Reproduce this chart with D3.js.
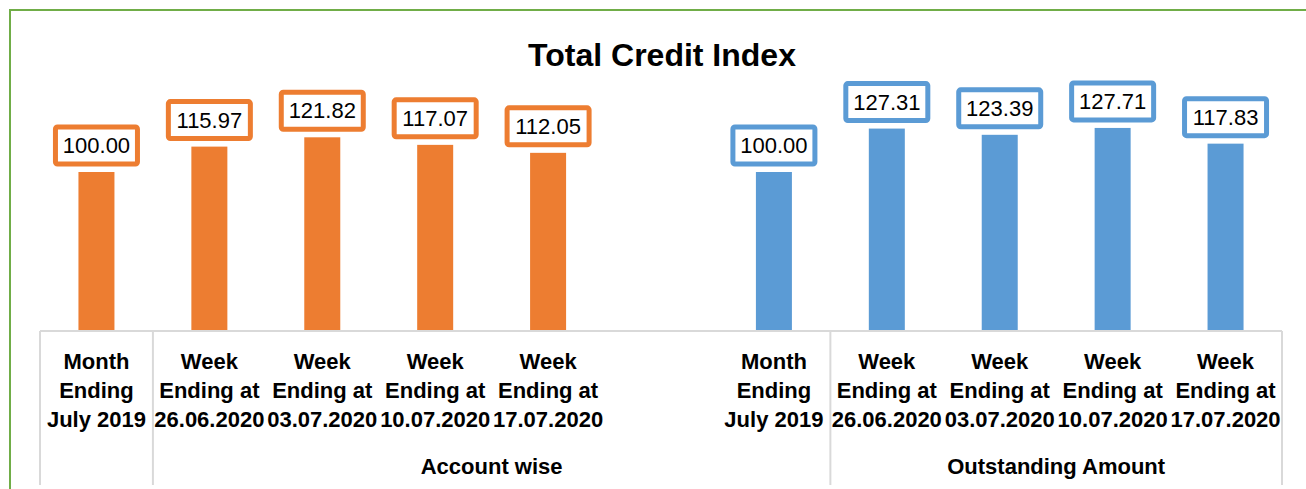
<!DOCTYPE html>
<meta charset="utf-8">
<style>
    body { margin: 0; background: #fff; }
    text { font-family: "Liberation Sans", Arial, sans-serif; fill: #000; }
</style>
<body>
<script src="https://cdn.jsdelivr.net/npm/d3@7"></script>
<script>

    var width = 1306,
        height = 489;

    // category labels (three lines each), one slot per bar, null = empty slot
    var catLines = [
        ["Month", "Ending", "July 2019"],
        ["Week", "Ending at", "26.06.2020"],
        ["Week", "Ending at", "03.07.2020"],
        ["Week", "Ending at", "10.07.2020"],
        ["Week", "Ending at", "17.07.2020"],
        null,
        ["Month", "Ending", "July 2019"],
        ["Week", "Ending at", "26.06.2020"],
        ["Week", "Ending at", "03.07.2020"],
        ["Week", "Ending at", "10.07.2020"],
        ["Week", "Ending at", "17.07.2020"]
    ];

    // second level of the axis, per slot
    var slotGroup = ["", "Account wise", "Account wise", "Account wise", "Account wise",
        "Account wise", "Account wise",
        "Outstanding Amount", "Outstanding Amount", "Outstanding Amount", "Outstanding Amount"];

    var accountValues = [100.00, 115.97, 121.82, 117.07, 112.05];
    var outstandingValues = [100.00, 127.31, 123.39, 127.71, 117.83];

    var orange = "#ed7d31",
        blue = "#5b9bd5";

    var bars = accountValues.map(function(v, i) { return { slot: i, value: v, color: orange }; })
        .concat(outstandingValues.map(function(v, i) { return { slot: i + 6, value: v, color: blue }; }));

    var axisY = 331;

    var x = d3.scaleBand()
        .domain(d3.range(catLines.length))
        .range([40, 1282]);

    var y = d3.scaleLinear()
        .domain([0, 100])
        .range([axisY, 172]);

    var svg = d3.select("body").append("svg")
        .attr("width", width)
        .attr("height", height);

    // chart frame
    svg.append("rect")
        .attr("x", 10).attr("y", 10)
        .attr("width", 1310).attr("height", 520)
        .attr("fill", "none")
        .attr("stroke", "#70ad47")
        .attr("stroke-width", 2);

    svg.append("text")
        .attr("x", 662).attr("y", 66)
        .attr("text-anchor", "middle")
        .style("font-size", "32px")
        .style("font-weight", "bold")
        .text("Total Credit Index");

    var barW = 36;

    svg.selectAll("rect.bar")
        .data(bars)
        .enter().append("rect")
        .attr("class", "bar")
        .attr("x", function(d) { return x(d.slot) + x.bandwidth() / 2 - barW / 2; })
        .attr("y", function(d) { return y(d.value); })
        .attr("width", barW)
        .attr("height", function(d) { return axisY - y(d.value); })
        .attr("fill", function(d) { return d.color; });

    // value labels in boxes
    var lab = svg.selectAll("g.lab")
        .data(bars)
        .enter().append("g")
        .attr("class", "lab")
        .attr("transform", function(d) {
            return "translate(" + (x(d.slot) + x.bandwidth() / 2) + "," + (y(d.value) - 8) + ")";
        });

    lab.append("rect")
        .attr("x", -41).attr("y", -37)
        .attr("width", 82).attr("height", 37)
        .attr("rx", 2)
        .attr("fill", "#fff")
        .attr("stroke", function(d) { return d.color; })
        .attr("stroke-width", 5);

    lab.append("text")
        .attr("y", -11)
        .attr("text-anchor", "middle")
        .style("font-size", "22px")
        .text(function(d) { return d.value.toFixed(2); });

    // category axis
    var grid = "#d9d9d9";
    svg.append("line")
        .attr("x1", 40).attr("x2", 1282)
        .attr("y1", axisY).attr("y2", axisY)
        .attr("stroke", grid).attr("stroke-width", 2);

    var cat = svg.selectAll("text.cat")
        .data(catLines.map(function(l, i) { return { lines: l, slot: i }; }).filter(function(d) { return d.lines; }))
        .enter().append("text")
        .attr("class", "cat")
        .attr("text-anchor", "middle")
        .style("font-size", "22px")
        .style("font-weight", "bold");

    cat.selectAll("tspan")
        .data(function(d) { return d.lines.map(function(t) { return { t: t, slot: d.slot }; }); })
        .enter().append("tspan")
        .attr("x", function(d) { return x(d.slot) + x.bandwidth() / 2; })
        .attr("y", function(d, i) { return 369 + i * 29; })
        .text(function(d) { return d.t; });

    // group spans from slotGroup
    var groups = [];
    slotGroup.forEach(function(g, i) {
        if (!groups.length || groups[groups.length - 1].label !== g) groups.push({ label: g, from: i, to: i });
        else groups[groups.length - 1].to = i;
    });

    var edges = groups.map(function(g) { return x(g.from); }).concat([x.range()[1]]);
    svg.selectAll("line.sep")
        .data(edges)
        .enter().append("line")
        .attr("class", "sep")
        .attr("x1", function(d) { return d; }).attr("x2", function(d) { return d; })
        .attr("y1", axisY).attr("y2", 485)
        .attr("stroke", grid).attr("stroke-width", 2);

    svg.selectAll("text.grp")
        .data(groups.filter(function(g) { return g.label; }))
        .enter().append("text")
        .attr("class", "grp")
        .attr("x", function(g) { return (x(g.from) + x(g.to) + x.bandwidth()) / 2; })
        .attr("y", 474)
        .attr("text-anchor", "middle")
        .style("font-size", "22px")
        .style("font-weight", "bold")
        .text(function(g) { return g.label; });

</script>
